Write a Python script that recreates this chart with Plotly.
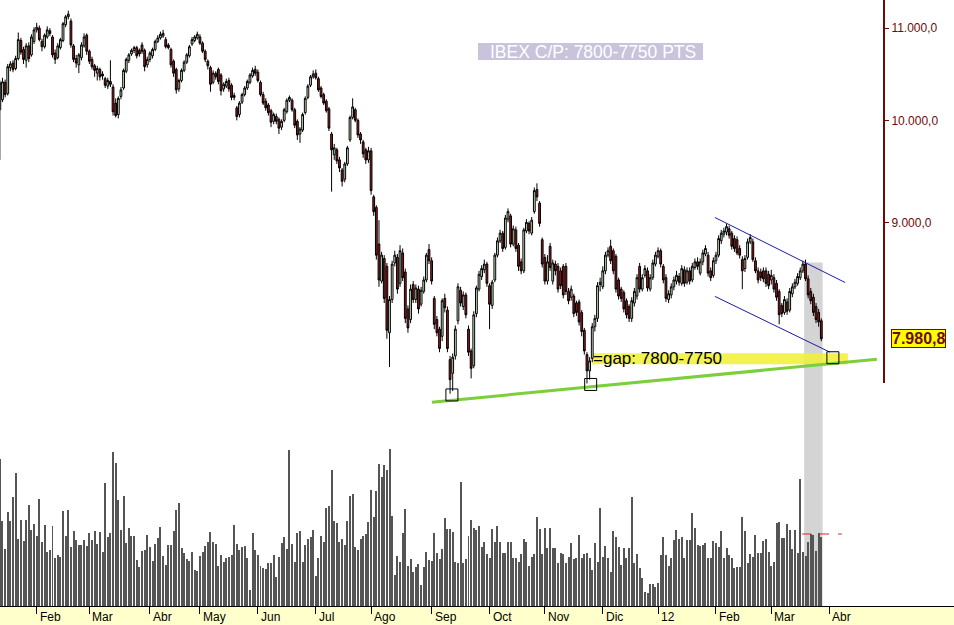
import math
import plotly.graph_objects as go

# ---------------- DATA ----------------
opens = [
    10110,10215,10400,10280,10560,10610,10550,10660,10860,10760,
    10640,10800,10700,10850,10980,11000,10850,10790,10900,10970,
    10900,10720,10670,10780,10860,11040,11130,11080,10800,10660,
    10590,10670,10800,10920,10740,10650,10580,10500,10540,10490,
    10440,10360,10410,10350,10180,10060,10250,10340,10520,10640,
    10710,10750,10780,10750,10810,10750,10590,10650,10690,10760,
    10850,10890,10910,10870,10810,10760,10630,10540,10330,10420,
    10530,10620,10690,10820,10860,10890,10900,10830,10740,10630,
    10560,10400,10500,10540,10480,10330,10360,10420,10370,10240,
    10130,10060,10190,10270,10340,10400,10470,10540,10510,10400,
    10270,10200,10160,10100,9990,10040,10010,9930,10000,10090,
    10210,10210,10110,9990,9860,9900,10080,10240,10370,10460,
    10500,10440,10340,10270,10200,10120,9860,9650,9700,9600,
    9500,9410,9560,9800,10030,10110,10000,9860,9780,9700,
    9600,9690,9240,9140,8800,8470,8670,8600,8030,8310,
    8630,8680,8450,8720,8550,8230,8140,8440,8310,8400,
    8270,8380,8480,8750,8650,8320,8140,8060,8000,8320,
    8220,7810,7700,7840,8130,8390,8250,8350,8060,7880,
    7760,8190,8400,8510,8570,8620,8430,8260,8480,8700,
    8830,8900,8770,9030,9060,8800,8930,8790,8640,8560,
    8920,8990,8900,9100,9310,9180,8840,8680,8470,8780,
    8470,8620,8600,8560,8600,8600,8380,8330,8340,8280,
    8290,8200,8050,7850,7720,7820,8080,8150,8440,8420,
    8560,8700,8780,8740,8690,8480,8400,8370,8300,8250,
    8150,8280,8340,8600,8400,8520,8560,8400,8500,8620,
    8690,8740,8600,8500,8310,8350,8420,8470,8510,8450,
    8570,8460,8560,8480,8590,8640,8540,8640,8710,8700,
    8560,8520,8650,8700,8830,8890,8910,8940,8900,8850,
    8840,8760,8660,8580,8680,8820,8820,8650,8560,8550,
    8560,8560,8530,8480,8500,8450,8380,8260,8200,8290,
    8220,8360,8420,8450,8500,8560,8620,8490,8380,8330,
    8250,8200,8130,
]
highs = [
    10420,10450,10430,10600,10630,10640,10690,10950,10890,10790,
    10830,10840,10930,11010,11060,11030,10880,10940,11020,11000,
    10920,10760,10830,10890,11070,11150,11200,11110,10820,10700,
    10720,10840,10940,10940,10760,10680,10600,10580,10560,10520,
    10460,10450,10640,10380,10230,10250,10350,10550,10670,10720,
    10770,10800,10800,10770,10840,10770,10680,10740,10780,10870,
    10920,10960,10980,10900,10830,10780,10650,10560,10440,10550,
    10640,10720,10810,10900,10920,10960,10930,10850,10760,10650,
    10580,10530,10520,10560,10500,10400,10440,10450,10390,10290,
    10150,10200,10290,10360,10430,10500,10560,10580,10540,10420,
    10300,10230,10180,10120,10080,10070,10030,10010,10130,10230,
    10260,10230,10130,10010,9930,10080,10250,10380,10480,10530,
    10540,10460,10360,10290,10220,10140,9880,9760,9720,9630,
    9520,9580,9740,10050,10230,10130,10020,9880,9800,9720,
    9730,9720,9260,9160,9020,8730,8700,8630,8340,8650,
    8740,8710,8790,8760,8580,8260,8440,8470,8440,8430,
    8420,8510,8720,8800,8680,8340,8170,8080,8320,8360,
    8250,7840,7860,8090,8450,8420,8380,8370,8090,7900,
    8210,8430,8560,8610,8660,8640,8450,8480,8720,8860,
    8930,8920,9070,9130,9080,8970,8960,8810,8670,8950,
    9030,9010,9050,9330,9370,9200,8860,8710,8700,8810,
    8660,8650,8630,8590,8620,8630,8410,8430,8360,8300,
    8310,8220,8070,7870,7830,8110,8180,8460,8500,8600,
    8730,8770,8840,8760,8710,8500,8420,8390,8320,8270,
    8330,8410,8530,8630,8530,8610,8590,8530,8660,8730,
    8770,8760,8620,8530,8390,8450,8510,8560,8540,8610,
    8600,8590,8590,8630,8670,8680,8670,8750,8790,8730,
    8590,8680,8730,8880,8930,8950,8990,8970,8920,8880,
    8870,8790,8690,8700,8850,8890,8850,8680,8590,8580,
    8590,8590,8560,8570,8530,8480,8400,8280,8340,8320,
    8410,8450,8490,8540,8590,8650,8660,8520,8410,8360,
    8280,8230,8150,
]
lows = [
    9600,10190,10240,10260,10520,10510,10530,10640,10700,10600,
    10560,10620,10680,10820,10950,10850,10740,10770,10880,10910,
    10670,10600,10650,10760,10840,11010,11100,10780,10620,10560,
    10500,10640,10780,10700,10600,10540,10460,10420,10420,10430,
    10340,10330,10350,10050,10030,10020,10220,10320,10500,10610,
    10690,10720,10660,10680,10710,10520,10560,10620,10660,10740,
    10830,10870,10890,10770,10760,10560,10460,10280,10300,10400,
    10510,10600,10670,10800,10840,10870,10810,10720,10620,10540,
    10300,10380,10430,10380,10260,10300,10340,10300,10210,10210,
    10000,10030,10170,10250,10320,10380,10450,10470,10400,10250,
    10160,10100,10050,9930,9960,9960,9860,9900,9980,10070,
    10190,10090,9920,9800,9770,9880,10060,10220,10350,10440,
    10430,10300,10230,10160,10080,9890,9290,9600,9560,9480,
    9340,9380,9540,9780,10010,9980,9820,9760,9620,9560,
    9570,9260,9060,8660,8420,8450,8280,7980,7750,8280,
    8600,8360,8420,8470,8110,8030,8110,8280,8280,8190,
    8250,8360,8460,8620,8440,8060,8000,7870,7960,8200,
    7870,7540,7560,7810,8100,8250,8220,8150,7840,7660,
    7740,8160,8380,8480,8540,8420,8060,8230,8460,8680,
    8810,8730,8750,9000,8770,8780,8730,8560,8530,8540,
    8900,8890,8880,9080,9200,8960,8590,8440,8440,8560,
    8440,8520,8370,8400,8320,8350,8270,8300,8160,8170,
    8090,8000,7850,7620,7650,7790,8040,8120,8380,8400,
    8530,8680,8620,8530,8370,8310,8290,8200,8150,8120,
    8120,8250,8310,8370,8380,8500,8380,8380,8480,8600,
    8670,8590,8450,8290,8280,8320,8390,8440,8430,8430,
    8420,8440,8440,8460,8570,8570,8520,8610,8690,8510,
    8470,8500,8620,8680,8800,8860,8880,8850,8750,8730,
    8700,8670,8400,8550,8660,8800,8640,8540,8450,8470,
    8460,8420,8400,8440,8370,8300,8100,8160,8180,8180,
    8200,8330,8400,8430,8480,8540,8470,8320,8270,8170,
    8110,8080,7960,
]
closes = [
    10395,10406,10270,10570,10600,10540,10660,10870,10730,10650,
    10800,10660,10900,10980,11010,10870,10790,10920,10980,10940,
    10700,10650,10800,10870,11050,11130,11160,10810,10650,10610,
    10700,10810,10900,10740,10630,10570,10530,10550,10460,10470,
    10370,10420,10380,10090,10050,10230,10320,10530,10650,10700,
    10750,10780,10690,10710,10740,10570,10650,10720,10760,10850,
    10890,10930,10940,10790,10780,10590,10500,10320,10420,10530,
    10620,10700,10790,10870,10900,10930,10830,10740,10650,10580,
    10380,10500,10460,10410,10310,10380,10410,10330,10240,10260,
    10040,10180,10270,10340,10410,10480,10530,10500,10420,10270,
    10180,10130,10080,9980,10060,9990,9920,9990,10110,10210,
    10240,10110,9950,9850,9910,10060,10230,10360,10460,10490,
    10450,10320,10250,10180,10100,9920,9700,9720,9590,9520,
    9390,9560,9720,10030,10140,10000,9850,9800,9660,9600,
    9690,9300,9100,8700,8480,8700,8320,8050,8310,8620,
    8700,8400,8740,8500,8150,8070,8400,8310,8410,8230,
    8390,8480,8700,8650,8470,8100,8030,7900,8300,8240,
    7900,7650,7830,8060,8420,8280,8350,8180,7870,7740,
    8180,8410,8530,8580,8620,8450,8270,8460,8700,8830,
    8900,8760,9040,9100,8800,8940,8760,8600,8560,8930,
    9000,8920,9020,9300,9240,8990,8620,8470,8640,8590,
    8630,8560,8400,8430,8350,8380,8300,8400,8190,8200,
    8120,8040,7880,7720,7800,8080,8150,8430,8460,8560,
    8700,8740,8650,8560,8400,8340,8320,8230,8180,8150,
    8300,8380,8500,8400,8500,8580,8410,8500,8630,8700,
    8740,8620,8480,8320,8360,8420,8480,8520,8460,8580,
    8450,8560,8470,8600,8640,8600,8640,8720,8760,8540,
    8500,8650,8700,8850,8900,8920,8960,8880,8780,8760,
    8720,8700,8560,8670,8820,8860,8660,8560,8480,8500,
    8490,8450,8430,8520,8400,8330,8180,8190,8310,8210,
    8380,8420,8460,8510,8560,8620,8490,8350,8300,8200,
    8140,8120,7980.8,
]
volumes = [
    147,85,57,94,85,109,133,67,86,65, 86,101,76,82,70,107,64,81,54,56,
    80,48,51,49,95,70,96,59,75,66, 61,61,66,60,73,66,75,62,74,54,
    123,69,73,154,143,106,76,110,63,78, 70,70,46,39,55,56,71,59,45,62,
    68,79,50,41,61,61,75,96,103,58, 53,47,45,54,36,35,50,54,60,64,
    74,64,62,40,51,44,48,49,51,81, 62,56,59,60,48,16,73,56,51,40,
    38,37,43,43,51,29,49,63,69,57, 156,62,44,73,75,44,61,67,69,76,
    30,48,70,64,98,100,136,85,83,64, 67,61,85,110,112,59,56,67,70,72,
    84,116,89,115,142,129,141,136,157,90, 31,50,44,73,97,40,47,34,39,42,
    21,39,54,46,45,73,53,47,57,88, 77,77,74,44,43,124,43,47,70,
    86,78,76,80,59,64,52,48,77,64, 80,64,53,53,64,64,48,48,44,52,
    67,64,40,49,52,89,77,52,78,58, 78,58,58,43,53,52,43,49,63,47,
    48,71,48,52,53,48,36,63,44,98, 49,60,48,34,75,69,59,41,58,48,
    58,109,43,52,38,28,14,13,22,22, 19,23,51,69,51,40,48,66,76,67,
    69,48,66,66,93,78,61,60,61,63, 48,48,65,63,59,75,48,58,51,48,
    38,39,39,89,75,43,52,49,71,53, 53,65,67,54,40,44,83,84,68,68,
    82,76,57,76,53,127,54,50,64,72, 71,55,73,69,
]

month_labels = ["Feb", "Mar", "Abr", "May", "Jun", "Jul", "Ago", "Sep",
                "Oct", "Nov", "Dic", "12", "Feb", "Mar", "Abr"]
month_start_idx = [14, 34, 57, 76, 98, 120, 141, 164, 186, 207, 229, 250, 272, 293, 315]
price_tick_vals = [9000, 10000, 11000]
price_tick_text = ["9.000,0", "10.000,0", "11.000,0"]

# drawn annotations, in (session index, price) terms
support_x = [164.1, 333.1]
support_y = [7474, 7813]
channel_up_x = [271.6, 321.0]
channel_up_y = [9045, 8458]
channel_lo_x = [271.6, 315.3]
channel_lo_y = [8337, 7870]
box_x = [171.7, 224.4, 316.4]
box_y = [7530, 7612, 7825]
gap_x = [224.9, 322.1]
gap_prices = [7773, 7862]
shade_x = [305.5, 312.5]
shade_top = 8634
avg_vol_x = [304.7, 319.8]
avg_vol = [72, 72]

title_text = "IBEX C/P: 7800-7750 PTS"
gap_text = "=gap: 7800-7750"

# ---------------- FIGURE ----------------
n = len(closes)
x = list(range(n))
FONT = "Liberation Sans, Arial, sans-serif"
AXIS_RED = "#6e0a0a"
PLOT_H = 606.0

fig = go.Figure()

fig.add_trace(go.Candlestick(
    x=x, open=opens, high=highs, low=lows, close=closes,
    xaxis="x", yaxis="y",
    increasing=dict(fillcolor="#d3f0cc", line=dict(color="#000000", width=1)),
    decreasing=dict(fillcolor="#a3171b", line=dict(color="#000000", width=1)),
    whiskerwidth=0, showlegend=False, hoverinfo="skip",
))

fig.add_trace(go.Scatter(x=support_x, y=support_y, mode="lines",
                         line=dict(color="#7ccf3a", width=3),
                         xaxis="x", yaxis="y", hoverinfo="skip"))
fig.add_trace(go.Scatter(x=channel_up_x, y=channel_up_y, mode="lines",
                         line=dict(color="#1a1aa6", width=1),
                         xaxis="x", yaxis="y", hoverinfo="skip"))
fig.add_trace(go.Scatter(x=channel_lo_x, y=channel_lo_y, mode="lines",
                         line=dict(color="#1a1aa6", width=1),
                         xaxis="x", yaxis="y", hoverinfo="skip"))
fig.add_trace(go.Scatter(x=box_x, y=box_y, mode="markers",
                         marker=dict(symbol="square-open", size=12,
                                     color="#000000", line=dict(width=1)),
                         xaxis="x", yaxis="y", hoverinfo="skip"))

fig.add_trace(go.Bar(x=x, y=volumes, xaxis="x", yaxis="y2",
                     marker=dict(color="#555555", line=dict(width=0)),
                     width=0.38, hoverinfo="skip", showlegend=False))
fig.add_trace(go.Scatter(x=avg_vol_x, y=avg_vol, mode="lines",
                         line=dict(color="#e02020", width=1, dash="dash"),
                         xaxis="x", yaxis="y2", hoverinfo="skip"))

shapes = [
    # date band
    dict(type="rect", xref="paper", yref="paper", x0=0, x1=1,
         y0=-19 / PLOT_H, y1=0, fillcolor="#ffffcc", line=dict(width=0), layer="below"),
    # highlighted last sessions
    dict(type="rect", xref="x", yref="y", x0=shade_x[0], x1=shade_x[1],
         y0=5000, y1=shade_top, fillcolor="#d4d4d4", line=dict(width=0), layer="below"),
    # gap band
    dict(type="rect", xref="x", yref="y", x0=gap_x[0], x1=gap_x[1],
         y0=gap_prices[0], y1=gap_prices[1], fillcolor="rgba(240,240,50,0.85)",
         line=dict(width=0), layer="below"),
    # price axis line
    dict(type="line", xref="paper", yref="paper", x0=884 / 954, x1=884 / 954,
         y0=(PLOT_H - 383) / PLOT_H, y1=1, line=dict(color=AXIS_RED, width=2)),
    # title box
    dict(type="rect", xref="paper", yref="paper", x0=478 / 954, x1=703 / 954,
         y0=(PLOT_H - 60) / PLOT_H, y1=(PLOT_H - 43) / PLOT_H,
         fillcolor="#c9c3dc", line=dict(width=0)),
]

annotations = []
for lab, idx in zip(month_labels, month_start_idx):
    annotations.append(dict(x=idx, xref="x", y=0, yref="paper", text=lab,
                            showarrow=False, xanchor="left", yanchor="top",
                            xshift=1, yshift=-2,
                            font=dict(family=FONT, size=12, color="#000000")))

annotations.append(dict(x=592.5 / 954, xref="paper", y=(PLOT_H - 51.5) / PLOT_H, yref="paper",
                        text=title_text, showarrow=False, xanchor="center", yanchor="middle",
                        font=dict(family=FONT, size=17.5, color="#ffffff")))
annotations.append(dict(x=gap_x[0], xref="x", y=math.log10(sum(gap_prices) / 2), yref="y",
                        text=gap_text, showarrow=False, xanchor="left", yanchor="middle",
                        xshift=-1, font=dict(family=FONT, size=17, color="#000000")))
last_txt = f"{closes[-1]:,.1f}".replace(",", "#").replace(".", ",").replace("#", ".")
annotations.append(dict(x=891 / 954, xref="paper", y=math.log10(closes[-1]), yref="y",
                        text="<b>" + last_txt + "</b>", showarrow=False,
                        xanchor="left", yanchor="middle",
                        bgcolor="#ffff00", bordercolor=AXIS_RED, borderwidth=1, borderpad=0,
                        font=dict(family=FONT, size=16, color=AXIS_RED)))

fig.update_layout(
    width=954, height=625,
    margin=dict(l=0, r=0, t=0, b=19, pad=0),
    paper_bgcolor="#ffffff", plot_bgcolor="rgba(0,0,0,0)",
    showlegend=False, boxgap=0.04,
    xaxis=dict(range=[0.06, 362.4], anchor="y2", showgrid=False, zeroline=False,
               showline=True, linecolor="#000000", linewidth=1,
               ticks="outside", ticklen=7, tickwidth=1, tickcolor="#000000",
               tickvals=month_start_idx, showticklabels=False,
               rangeslider=dict(visible=False), fixedrange=True),
    yaxis=dict(type="log", domain=[0, 1], range=[3.7821, 4.0540],
               anchor="free", position=884 / 954, side="right",
               tickvals=price_tick_vals, ticktext=price_tick_text,
               ticks="outside", ticklen=4, tickwidth=1, tickcolor=AXIS_RED,
               tickfont=dict(family=FONT, size=12, color=AXIS_RED),
               showgrid=False, zeroline=False, showline=False, fixedrange=True),
    yaxis2=dict(domain=[0, 0.3], range=[0, 181.8], visible=False,
                anchor="x", fixedrange=True),
    shapes=shapes, annotations=annotations,
)

fig.write_html(
    "out.html",
    config={"displayModeBar": False},
    post_script="document.body.style.margin='0px';document.body.style.padding='0px';"
                "document.body.style.overflow='hidden';",
)
